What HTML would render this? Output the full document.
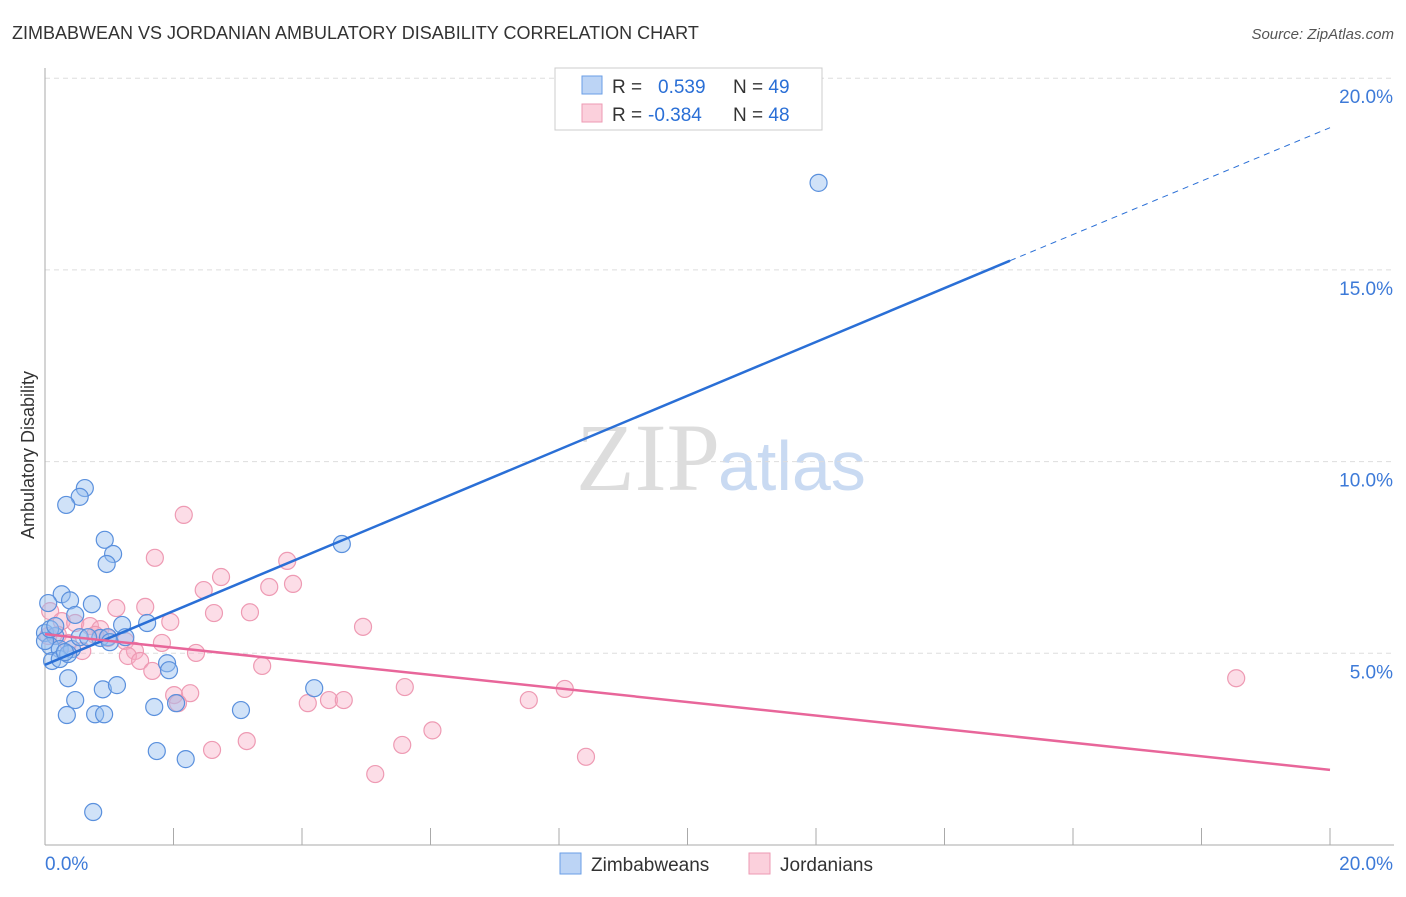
<!DOCTYPE html>
<html><head><meta charset="utf-8"><style>
body{margin:0;background:#fff;font-family:"Liberation Sans",sans-serif}
</style></head><body>
<svg id="chart" width="1406" height="892" xmlns="http://www.w3.org/2000/svg">
<text x="12" y="39" font-size="18" fill="#333">ZIMBABWEAN VS JORDANIAN AMBULATORY DISABILITY CORRELATION CHART</text>
<text x="1394" y="39" font-size="15" fill="#555" text-anchor="end" font-style="italic">Source: ZipAtlas.com</text>
<text x="720" y="490" font-size="96" fill="#ddd" text-anchor="end" font-family="Liberation Serif">ZIP</text>
<text x="718" y="490" font-size="70" fill="#c9daf2">atlas</text>
<text transform="translate(34,455) rotate(-90)" font-size="18" fill="#333" text-anchor="middle">Ambulatory Disability</text>
<g id="grid"></g><g id="pts"></g><g id="lines"></g>
<g>
<rect x="555" y="68" width="267" height="62" fill="#fff" stroke="#ccc"/>
<rect x="582" y="76" width="20" height="18" fill="#bcd4f5" stroke="#6a9ee6"/>
<rect x="582" y="104" width="20" height="18" fill="#fbd0dc" stroke="#ee9ab3"/>
<text x="612" y="93" font-size="19" fill="#333">R = <tspan fill="#2a6fd6" x="658">0.539</tspan><tspan x="733" fill="#333">N = </tspan><tspan fill="#2a6fd6">49</tspan></text>
<text x="612" y="121" font-size="19" fill="#333">R = <tspan fill="#2a6fd6" x="648">-0.384</tspan><tspan x="733" fill="#333">N = </tspan><tspan fill="#2a6fd6">48</tspan></text>
</g>
<g>
<rect x="560" y="853" width="21" height="21" fill="#bcd4f5" stroke="#6a9ee6"/>
<text x="591" y="871" font-size="19" fill="#333">Zimbabweans</text>
<rect x="749" y="853" width="21" height="21" fill="#fbd0dc" stroke="#ee9ab3"/>
<text x="780" y="871" font-size="19" fill="#333">Jordanians</text>
</g>
</svg>
<script>
const xTicks=[0,20];
const yTicks=[5,10,15,20];
const blueX=[12.04,0.62,0.54,0.33,0.93,1.06,0.96,4.62,0.26,0.39,0.05,0.73,0.47,1.2,1.59,0,0.16,0.08,0.23,0.42,0.11,0.23,0.86,0.98,1.9,1.93,0.36,0.9,1.12,4.19,0.47,0.34,0.78,0.92,1.7,2.04,3.05,1.74,2.19,0.75,0,0.08,0.36,0.54,0.16,1.01,0.67,1.25,0.31];
const blueY=[17.27,9.31,9.08,8.87,7.96,7.59,7.33,7.85,6.54,6.38,6.31,6.28,6.0,5.74,5.79,5.53,5.45,5.19,5.11,5.11,4.8,4.85,5.4,5.42,4.74,4.56,4.35,4.06,4.17,4.09,3.78,3.39,3.41,3.41,3.6,3.7,3.52,2.45,2.24,0.86,5.32,5.63,4.98,5.42,5.71,5.29,5.42,5.42,5.03];
const pinkX=[2.16,1.71,2.74,3.77,3.49,3.86,2.47,3.19,2.63,1.11,1.56,1.95,4.95,0.08,0.26,0.47,0.7,0.86,1.25,1.4,1.29,1.48,1.82,1.67,2.35,3.38,5.6,8.09,7.53,2.01,2.26,2.07,4.09,4.42,4.65,2.6,3.14,5.56,6.03,5.14,8.42,18.54,0.05,0.2,0.36,0.58,0.78,0.98];
const pinkY=[8.61,7.49,6.99,7.41,6.73,6.81,6.65,6.07,6.05,6.18,6.21,5.82,5.69,6.1,5.84,5.79,5.71,5.63,5.32,5.06,4.93,4.8,5.27,4.54,5.01,4.67,4.12,4.07,3.78,3.91,3.96,3.7,3.7,3.78,3.78,2.48,2.71,2.61,2.99,1.85,2.3,4.35,5.45,5.48,5.27,5.06,5.48,5.4];
const blueLine=[[0,4.7],[15.02,15.24],[20,18.71]];
const pinkLine=[[0,5.5],[20,1.96]];
const X=v=>45+v/20*1285, Y=v=>845-v/5*191.7;
const NS='http://www.w3.org/2000/svg';
function mk(t,a,p){const e=document.createElementNS(NS,t);for(const k in a)e.setAttribute(k,a[k]);p.appendChild(e);return e;}
const g=document.getElementById('grid');
yTicks.forEach(v=>{const l=mk('line',{x1:45,x2:1394,y1:Y(v),y2:Y(v),stroke:'#ddd','stroke-dasharray':'5,4'},g);


const t=mk('text',{x:1393,y:Y(v)+25,'font-size':19,fill:'#3d7ad8','text-anchor':'end'},g);t.textContent=v.toFixed(1)+'%';

});
mk('line',{x1:45,x2:45,y1:68,y2:845,stroke:'#aaa'},g);
mk('line',{x1:45,x2:1394,y1:845,y2:845,stroke:'#aaa'},g);
for(let i=1;i<=10;i++){mk('line',{x1:X(i*2),x2:X(i*2),y1:828,y2:845,stroke:'#aaa'},g);}
xTicks.forEach((v,i)=>{const t=mk('text',{x:i?1393:45,y:870,'font-size':19,fill:'#3d7ad8','text-anchor':i?'end':'start'},g);t.textContent=v.toFixed(1)+'%';

});
const p=document.getElementById('pts');
pinkX.forEach((x,i)=>{const c=mk('circle',{cx:X(x),cy:Y(pinkY[i]),r:8.5,fill:'rgba(247,170,195,0.4)',stroke:'#ee9ab3','stroke-width':1.2},p);

});
blueX.forEach((x,i)=>{const c=mk('circle',{cx:X(x),cy:Y(blueY[i]),r:8.5,fill:'rgba(150,190,240,0.45)',stroke:'#5a90dd','stroke-width':1.2},p);

});
const L=document.getElementById('lines');
let e=mk('line',{x1:X(blueLine[0][0]),y1:Y(blueLine[0][1]),x2:X(blueLine[1][0]),y2:Y(blueLine[1][1]),stroke:'#2a6fd6','stroke-width':2.5},L);


e=mk('line',{x1:X(blueLine[1][0]),y1:Y(blueLine[1][1]),x2:X(blueLine[2][0]),y2:Y(blueLine[2][1]),stroke:'#2a6fd6','stroke-width':1,'stroke-dasharray':'6,5'},L);


e=mk('line',{x1:X(pinkLine[0][0]),y1:Y(pinkLine[0][1]),x2:X(pinkLine[1][0]),y2:Y(pinkLine[1][1]),stroke:'#e8669a','stroke-width':2.5},L);


</script>
</body></html>
